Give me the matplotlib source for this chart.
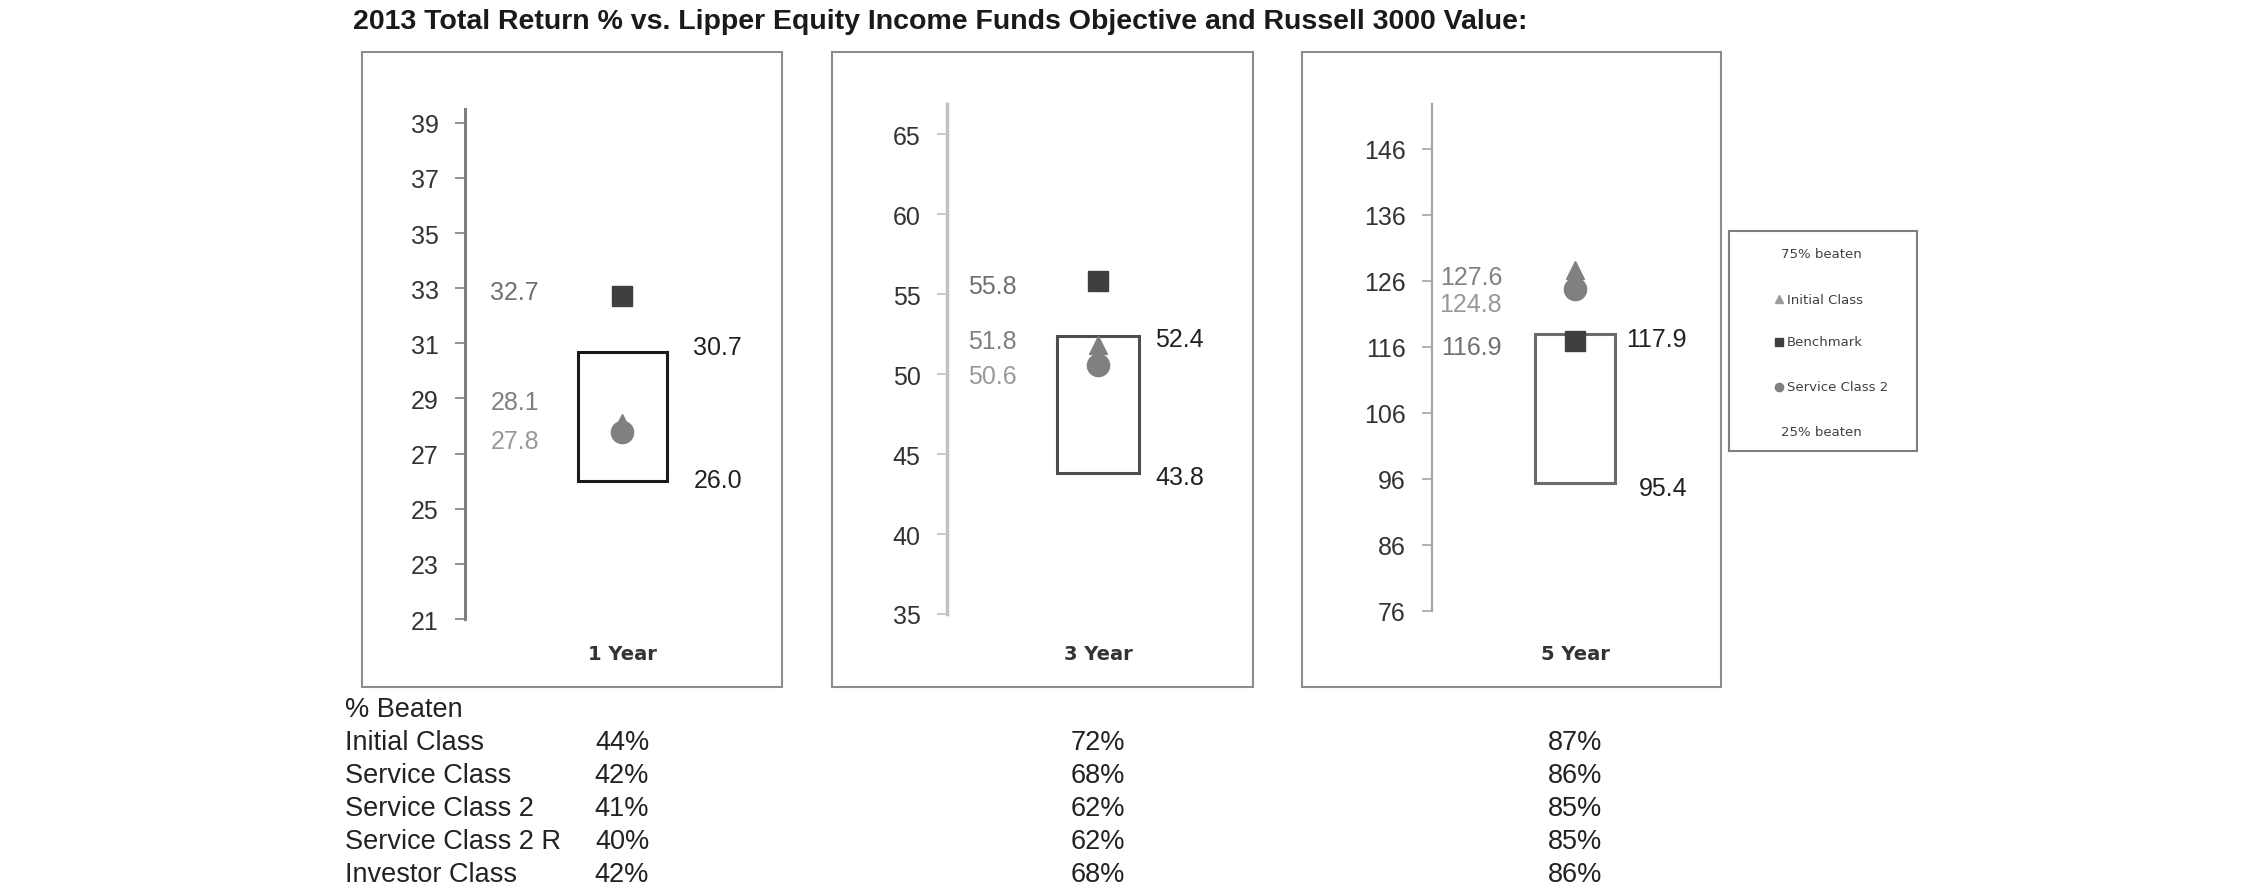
import matplotlib
matplotlib.use('Agg')
import matplotlib.pyplot as plt
from matplotlib.patches import Rectangle
from matplotlib.transforms import blended_transform_factory

plt.rcParams['font.family'] = ['Liberation Sans', 'DejaVu Sans']

# data
title = '2013 Total Return % vs. Lipper Equity Income Funds Objective and Russell 3000 Value:'
periods = ['1 Year', '3 Year', '5 Year']
pct75 = [30.7, 52.4, 117.9]
pct25 = [26.0, 43.8, 95.4]
initial_class = [28.1, 51.8, 127.6]
benchmark = [32.7, 55.8, 116.9]
service_class_2 = [27.8, 50.6, 124.8]
yticks = [
    [21, 23, 25, 27, 29, 31, 33, 35, 37, 39],
    [35, 40, 45, 50, 55, 60, 65],
    [76, 86, 96, 106, 116, 126, 136, 146],
]
ylims = [(21, 39.5), (35, 66.9), (76, 152.8)]

classes = ['Initial Class', 'Service Class', 'Service Class 2', 'Service Class 2 R', 'Investor Class']
beaten_1y = [44, 42, 41, 40, 42]
beaten_3y = [72, 68, 62, 62, 68]
beaten_5y = [87, 86, 85, 85, 86]

legend_items = ['75% beaten', 'Initial Class', 'Benchmark', 'Service Class 2', '25% beaten']

# layout (pixels)
W, H = 2250, 895
frames = [(362, 53, 782, 688), (832, 53, 1253, 688), (1302, 53, 1721, 688)]
axes_px = [(465, 110, 775, 620), (947, 105, 1245, 615), (1432, 105, 1715, 612)]
box_cx = [157, 151, 143]
box_w = [89, 82, 80]
left_lab_x = [74, 70, 70]
right_lab_x = [277, 257, 255]
# label nudges in points: benchmark, initial, service class 2
left_nudge = [(3, 15, -7), (-3, 3, -8), (-4, -5, -11)]
right_nudge = [(3, 1), (-2, -3), (-3, -4)]
spine_col = ['#7f7f7f', '#c0c0c0', '#a6a6a6']
spine_lw = [2.2, 2.5, 1.6]
box_col = ['#1a1a1a', '#4d4d4d', '#6b6b6b']
drop_col = '#808080'
bench_col = '#3f3f3f'
label_col = ['#707070', '#808080', '#999999']


def fig_box(x0, y0, x1, y1):
    return [x0 / W, 1 - y1 / H, (x1 - x0) / W, (y1 - y0) / H]


fig = plt.figure(figsize=(W / 100, H / 100), dpi=100)

fig.text(940 / W, 1 - 22 / H, title, ha='center', va='center', fontsize=20.5,
         fontweight='bold', color='#1a1a1a')

table_cols = [beaten_1y, beaten_3y, beaten_5y]
row_y = [743, 776, 809, 842, 875]
fig.text(345 / W, 1 - 710 / H, '% Beaten', ha='left', va='center', fontsize=19.5, color='#222222')
for name, y in zip(classes, row_y):
    fig.text(345 / W, 1 - y / H, name, ha='left', va='center', fontsize=19.5, color='#222222')

for i in range(3):
    x0, y0, x1, y1 = frames[i]
    fig.patches.append(Rectangle((x0 / W, 1 - y1 / H), (x1 - x0) / W, (y1 - y0) / H,
                                 transform=fig.transFigure, fill=False,
                                 edgecolor='#8c8c8c', linewidth=1.5))
    l, t, r, b = axes_px[i]
    ax = fig.add_axes(fig_box(l, t, r, b))
    ax.patch.set_alpha(0)
    ax.set_xlim(0, r - l)
    ax.set_ylim(*ylims[i])
    for s in ['top', 'right', 'bottom']:
        ax.spines[s].set_visible(False)
    ax.spines['left'].set_color(spine_col[i])
    ax.spines['left'].set_linewidth(spine_lw[i])
    ax.set_xticks([])
    ax.set_yticks(yticks[i])
    ax.tick_params(axis='y', length=7, width=1.2, color=spine_col[i], pad=12,
                   labelsize=18, labelcolor='#333333')

    cx = box_cx[i]
    ax.bar(cx, pct75[i] - pct25[i], bottom=pct25[i], width=box_w[i], fill=False,
           edgecolor=box_col[i], linewidth=2.2, zorder=2)
    ax.plot(cx, initial_class[i], marker='^', ms=13, color=drop_col, ls='none', zorder=3, clip_on=False)
    ax.plot(cx, service_class_2[i], marker='o', ms=16, color=drop_col, ls='none', zorder=3, clip_on=False)
    ax.plot(cx, benchmark[i], marker='s', ms=14, color=bench_col, ls='none', zorder=4, clip_on=False)

    for val, col, dy in zip([benchmark[i], initial_class[i], service_class_2[i]], label_col, left_nudge[i]):
        ax.annotate(f'{val:.1f}', xy=(left_lab_x[i], val), xytext=(0, dy), textcoords='offset points',
                    ha='right', va='center', fontsize=18, color=col)
    for val, dy in zip([pct75[i], pct25[i]], right_nudge[i]):
        ax.annotate(f'{val:.1f}', xy=(right_lab_x[i], val), xytext=(0, dy), textcoords='offset points',
                    ha='right', va='center', fontsize=18, color='#222222')

    tr = blended_transform_factory(ax.transData, fig.transFigure)
    ax.text(cx, 1 - 655 / H, periods[i], transform=tr, ha='center', va='center', fontsize=14,
            fontweight='bold', family='DejaVu Sans', color='#333333')
    for v, y in zip(table_cols[i], row_y):
        ax.text(cx, 1 - y / H, f'{v}%', transform=tr, ha='center', va='center', fontsize=19.5,
                color='#222222')

# legend box
lx0, ly0, lx1, ly1 = 1729, 232, 1917, 452
leg = fig.add_axes(fig_box(lx0, ly0, lx1, ly1))
leg.set_xlim(0, lx1 - lx0)
leg.set_ylim(ly1 - ly0, 0)
leg.set_xticks([])
leg.set_yticks([])
for s in leg.spines.values():
    s.set_color('#7f7f7f')
    s.set_linewidth(1.5)
leg_y = [23, 68, 111, 156, 201]
leg_x = [52, 58, 58, 58, 52]
leg_markers = [None, ('^', '#9a9a9a'), ('s', bench_col), ('o', drop_col), None]
for txt, x, y, mk in zip(legend_items, leg_x, leg_y, leg_markers):
    if mk is not None:
        leg.plot(50, y, marker=mk[0], ms=6, color=mk[1], ls='none')
    leg.text(x, y, txt, ha='left', va='center', fontsize=9.5, family='DejaVu Sans', color='#404040')

fig.savefig('out.png', dpi=100)
